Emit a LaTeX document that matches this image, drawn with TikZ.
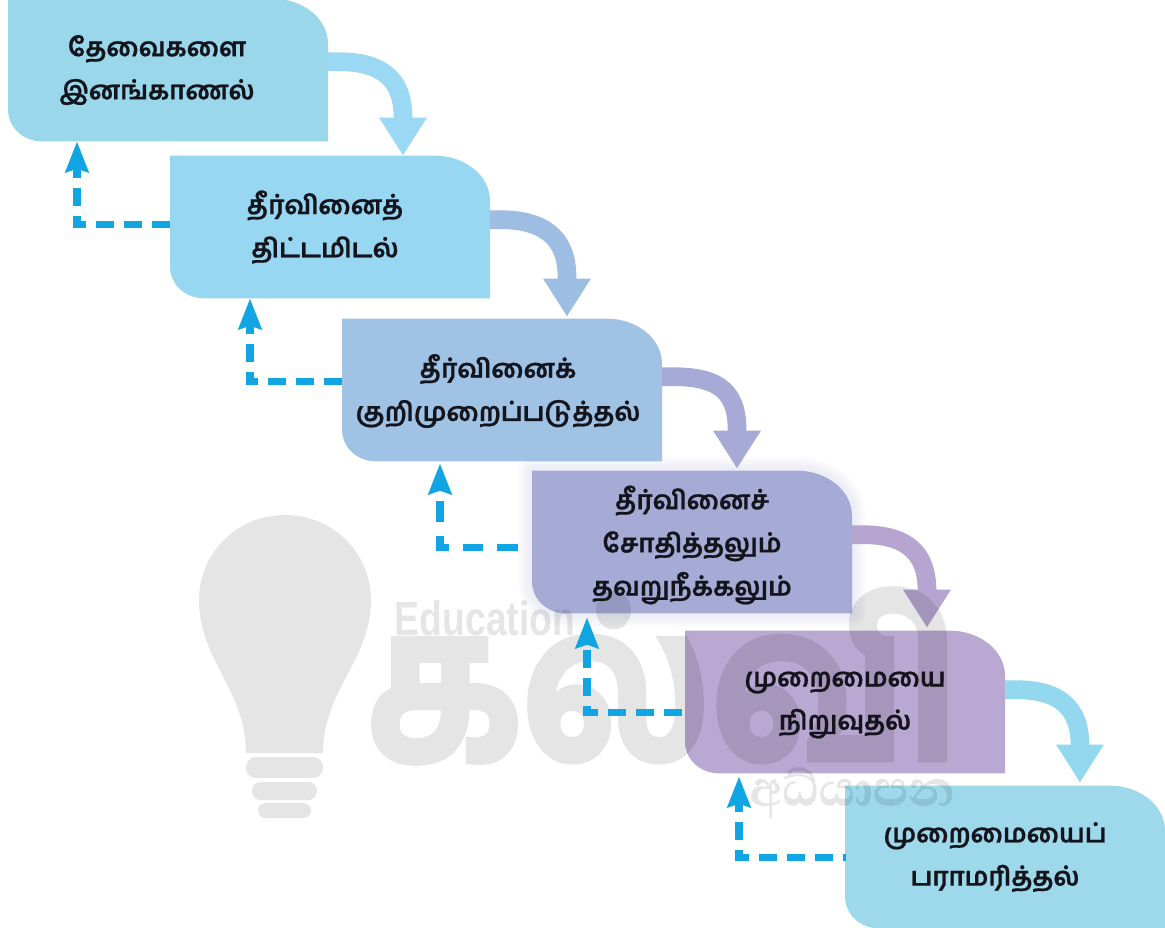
\documentclass[tikz,border=0pt]{standalone}
\usepackage{fontspec}
\usepackage{graphicx}
\usetikzlibrary{arrows.meta,calc}
\newfontfamily\tamilfont[Script=Tamil,BoldFeatures={FakeBold=0.7}]{Hind Madurai}
\newfontfamily\tamilheavy[Script=Tamil,BoldFeatures={FakeBold=3.5}]{Hind Madurai}
\newfontfamily\sinhalafont[Script=Sinhala,BoldFeatures={FakeBold=1}]{Abhaya Libre}
\setsansfont{Liberation Sans}
\pgfdeclarelayer{boxlayer}
\pgfdeclarelayer{marklayer}
\pgfsetlayers{boxlayer,marklayer,main}
\definecolor{cA}{HTML}{9AD7EB}
\definecolor{cB}{HTML}{97D7F2}
\definecolor{cC}{HTML}{9FC2E5}
\definecolor{cD}{HTML}{A6ABD6}
\definecolor{cE}{HTML}{B9A8D2}
\definecolor{cF}{HTML}{9DD9EA}
\definecolor{aA}{HTML}{9AD8F3}
\definecolor{aB}{HTML}{9DBDE3}
\definecolor{aC}{HTML}{A7A9D6}
\definecolor{aD}{HTML}{B5A5D0}
\definecolor{aE}{HTML}{93D8EE}
\definecolor{dashc}{HTML}{12A5E3}
\definecolor{ink}{HTML}{14141C}
\tikzset{
  stagebox/.style={minimum width=240pt,minimum height=107pt,inner sep=0pt,outer sep=0pt},
  stagetext/.style={font=\tamilfont\bfseries\fontsize{19.5}{32.4}\selectfont,text=ink,align=center,inner sep=0pt},
  flow/.style={line width=14pt,draw=#1,-{Triangle[width=33.75pt,length=28.5pt,fill=#1]}},
  back/.style={draw=dashc,line width=5.7pt,dash pattern=on 13.5pt off 7.5pt,-{Stealth[width=17pt,length=23pt,inset=2.5pt,fill=dashc]}},
  wmark/.style={fill=black,fill opacity=0.1,draw=none},
  wtext/.style={inner sep=0pt,text=black,anchor=center},
}
\newcommand{\stageoutline}[1]{(#1.north west)
      -- ($(#1.north east)+(-55,0)$) .. controls ($(#1.north east)+(-25,0)$) and ($(#1.north east)+(0,20)$) .. ($(#1.north east)+(0,45)$)
      -- (#1.south east)
      -- ($(#1.south west)+(34,0)$) .. controls ($(#1.south west)+(15,0)$) and ($(#1.south west)+(0,-14)$) .. ($(#1.south west)+(0,-32)$)
      -- cycle}
\newcommand{\stagefill}[2]{%
  \begin{pgfonlayer}{boxlayer}
    \fill[#2] \stageoutline{#1};
  \end{pgfonlayer}}
\begin{document}
\begin{tikzpicture}[x=0.75pt,y=-0.75pt]
\useasboundingbox (0,0) rectangle (1165,928);
\begin{pgfonlayer}{boxlayer}
\fill[white] (0,0) rectangle (1165,928);
\end{pgfonlayer}
% boxes
\node[stagebox] (a) at (168,70) {};
\node[stagebox] (b) at (330,227) {};
\node[stagebox] (c) at (502,390) {};
\node[stagebox] (d) at (692,542) {};
\node[stagebox] (e) at (845,702) {};
\node[stagebox] (f) at (1005,857) {};
\begin{pgfonlayer}{boxlayer}
\foreach \w in {5,10,15,20}
  \draw[cD,opacity=0.05,line width=\w pt,line join=round] \stageoutline{d};
\end{pgfonlayer}
\stagefill{a}{cA}\stagefill{b}{cB}\stagefill{c}{cC}\stagefill{d}{cD}\stagefill{e}{cE}\stagefill{f}{cF}
% text
\node[stagetext] (ta) at (157,70) {தேவைகளை\\இனங்காணல்};
\node[stagetext] (tb) at (325,227) {தீர்வினைத்\\திட்டமிடல்};
\node[stagetext] (tc) at (498,391) {தீர்வினைக்\\குறிமுறைப்படுத்தல்};
\node[stagetext] (td) at (692,545) {தீர்வினைச்\\சோதித்தலும்\\தவறுநீக்கலும்};
\node[stagetext] (te) at (845,705) {முறைமையை\\நிறுவுதல்};
\node[stagetext] (tf) at (995,857) {முறைமையைப்\\பராமரித்தல்};
% forward connectors
\begin{pgfonlayer}{boxlayer}
\draw[flow=aA] ($(a.north east)+(0,63)$) -- +(10,0) .. controls +(40,0) and +(0,-42) .. ($(b.north west)+(233,-38)$) -- ($(b.north west)+(233,0)$);
\draw[flow=aB] ($(b.north east)+(0,64)$) -- +(10,0) .. controls +(40,0) and +(0,-42) .. ($(c.north west)+(225,-42)$) -- ($(c.north west)+(225,-2)$);
\draw[flow=aC] ($(c.north east)+(0,58)$) -- +(10,0) .. controls +(40,0) and +(0,-42) .. ($(d.north west)+(205,-42)$) -- ($(d.north west)+(205,-2)$);
\draw[flow=aD] ($(d.north east)+(0,64)$) -- +(10,0) .. controls +(40,0) and +(0,-42) .. ($(e.north west)+(242,-40)$) -- ($(e.north west)+(242,-3)$);
\draw[flow=aE] ($(e.north east)+(0,59)$) -- +(10,0) .. controls +(40,0) and +(0,-42) .. ($(f.north west)+(235,-40)$) -- ($(f.north west)+(235,-3)$);
\end{pgfonlayer}
% back connectors
\draw[back] ($(b.north west)+(0,69)$) -| ($(a.south west)+(69,0)$);
\draw[back] ($(c.north west)+(0,63)$) -| ($(b.south west)+(80,0)$);
\draw[back,dash pattern=on 15.5pt off 10.5pt] ($(d.north west)+(-14,77)$) -| ($(c.south west)+(98,2)$);
\draw[back] ($(e.north west)+(-3,82)$) -| ($(d.south west)+(55,4)$);
\draw[back,dash phase=11.25pt] ($(f.north west)+(1,72)$) -| ($(e.south west)+(54,3)$);
% watermark
\begin{pgfonlayer}{marklayer}
\fill[wmark] (285,515) .. controls (235,515) and (199,555) .. (199,600)
  .. controls (199,660) and (246,690) .. (246,753) -- (323,753)
  .. controls (323,690) and (371,660) .. (371,600) .. controls (371,555) and (335,515) .. (285,515) -- cycle;
\fill[wmark,rounded corners=7.5pt] (246,757) rectangle (323,778);
\fill[wmark,rounded corners=6.5pt] (252,782) rectangle (317,800);
\fill[wmark,rounded corners=5.5pt] (258,803) rectangle (311,818);
\begin{scope}[transparency group,opacity=0.1]
\node[wtext] (wk) at (663,676)
  {\resizebox*{444pt}{129pt}{\tamilheavy\bfseries கல்வி}};
\end{scope}
\begin{scope}[transparency group,opacity=0.1]
\node[wtext] (we) at (485,618)
  {\resizebox{135pt}{26pt}{\sffamily\bfseries Education}};
\end{scope}
\begin{scope}[transparency group,opacity=0.1]
\node[wtext] (ws) at (852,793)
  {\resizebox*{154pt}{38pt}{\sinhalafont\bfseries අධ්යාපන}};
\end{scope}
\end{pgfonlayer}
\end{tikzpicture}
\end{document}
